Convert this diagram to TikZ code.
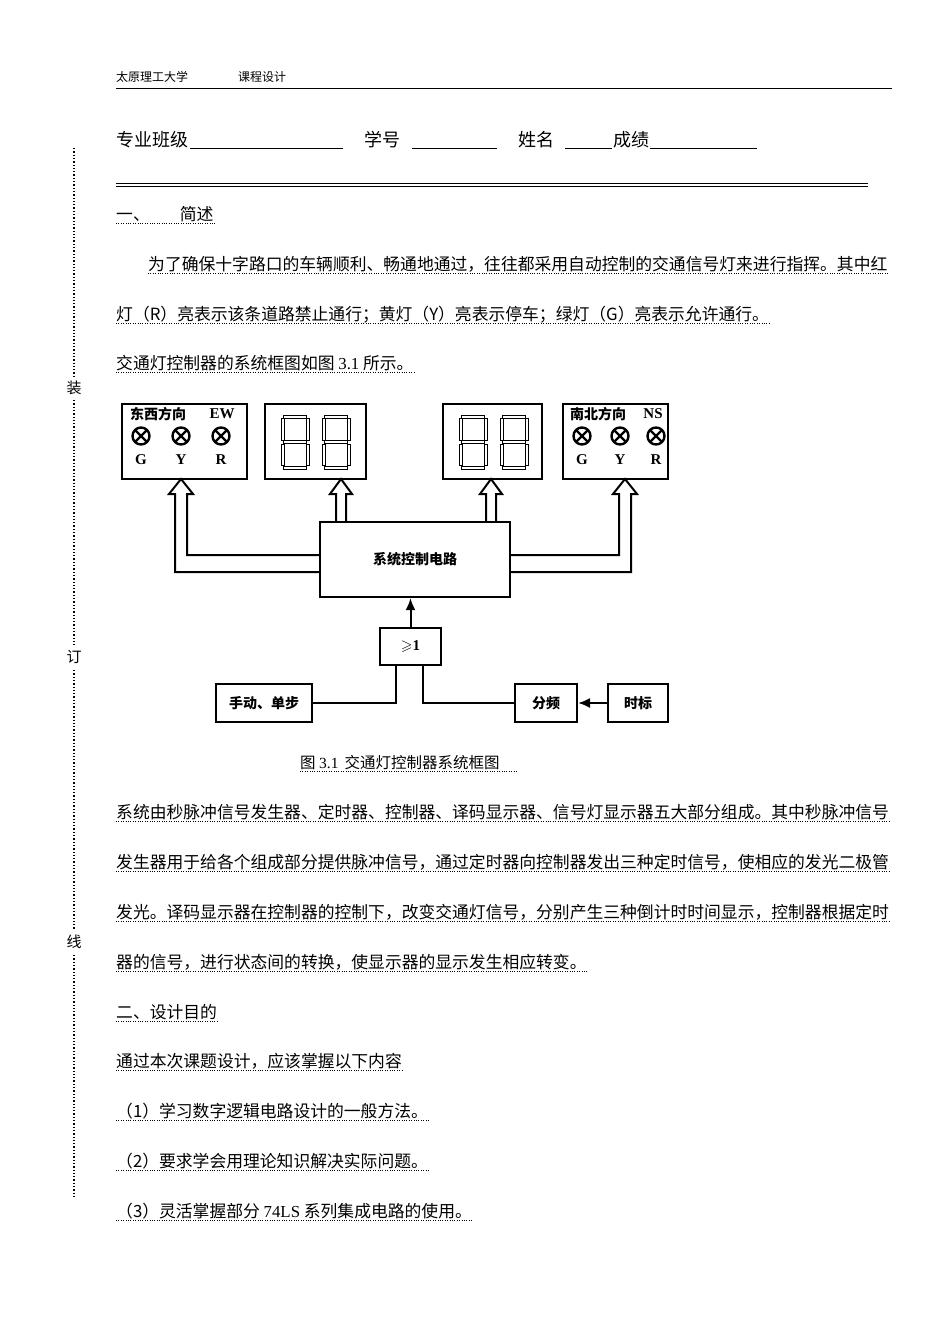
\documentclass[tikz,border=0pt]{standalone}
\usepackage{amssymb}
\usepackage{fontspec}
\setmainfont{Liberation Serif}
\newfontfamily\cjk{Noto Sans CJK SC}
\usetikzlibrary{arrows.meta}
\begin{document}
\begin{tikzpicture}[x=1pt,y=-1pt,
 txt/.style={anchor=base west,inner sep=0pt,font=\fontsize{16.8}{18}\selectfont\cjk},
 blk/.style={draw,line width=2.2pt,inner sep=0pt},
 hol/.style={line width=2pt},
 lamp/.style={circle,draw,line width=2.4pt,minimum size=17pt,inner sep=0pt,path picture={\draw[line width=2.4pt] (path picture bounding box.north west)--(path picture bounding box.south east) (path picture bounding box.north east)--(path picture bounding box.south west);}},
 lab/.style={inner sep=0pt,font=\fontsize{15}{16}\selectfont\bfseries}]
\useasboundingbox[fill=white] (0,0) rectangle (950,1344);
% header
\node[txt,font=\fontsize{12}{14}\selectfont\cjk] (h1) at (116,81) {太原理工大学};
\node[txt,font=\fontsize{12}{14}\selectfont\cjk] (h2) at (238,81) {课程设计};
\draw[line width=0.8pt] (116,88) -- (892,88);
\node[txt,font=\fontsize{18}{20}\selectfont\cjk] (f1) at (116,146) {专业班级};
\draw (190,148) -- (343,148);
\node[txt,font=\fontsize{18}{20}\selectfont\cjk] (f2) at (364,146) {学号};
\draw (412,148) -- (497,148);
\node[txt,font=\fontsize{18}{20}\selectfont\cjk] (f3) at (518,146) {姓名};
\draw (565,148) -- (612,148);
\node[txt,font=\fontsize{18}{20}\selectfont\cjk] (f4) at (613,146) {成绩};
\draw (650,148) -- (757,148);
\draw[line width=0.8pt] (116,183) -- (868,183);
\draw[line width=0.8pt] (116,186) -- (868,186);
% binding line
\draw[dotted,line width=1.3pt] (74,148) -- (74,376) (74,400)--(74,645) (74,670)--(74,930) (74,955)--(74,1198);
\node[inner sep=0pt,font=\fontsize{15}{16}\selectfont\cjk] (z1) at (74,388) {装};
\node[inner sep=0pt,font=\fontsize{15}{16}\selectfont\cjk] (z2) at (74,657) {订};
\node[inner sep=0pt,font=\fontsize{15}{16}\selectfont\cjk] (z3) at (74,942) {线};
% text lines
\newcommand\dl[4]{\node[txt] (#1) at (#2,#3) {#4}; \draw[dotted] ([yshift=-3pt]#1.base west) -- ([yshift=-3pt]#1.base east);}
\node[txt] (s1) at (116,220) {一、\hspace{30pt}简述};
\draw[dotted] (116,223) -- (215,223);
\dl{p1}{148}{270}{为了确保十字路口的车辆顺利、畅通地通过，往往都采用自动控制的交通信号灯来进行指挥。其中红}
\dl{p2}{116}{320}{灯（R）亮表示该条道路禁止通行；黄灯（Y）亮表示停车；绿灯（G）亮表示允许通行。}
\dl{p3}{116}{369}{交通灯控制器的系统框图如图 {\rmfamily 3.1} 所示。}
% diagram boxes
\draw[line width=2pt] (122,404) rectangle (247,479);
\draw[line width=2pt] (265,404) rectangle (366,479);
\draw[line width=2pt] (443,404) rectangle (542,479);
\draw[line width=2pt] (563,404) rectangle (668,479);
\node[inner sep=0pt,font=\fontsize{14}{15}\selectfont\cjk\bfseries] (ewl) at (158,414) {东西方向};
\node[lab] (ew) at (222,414) {EW};
\node[inner sep=0pt,font=\fontsize{14}{15}\selectfont\cjk\bfseries] (nsl) at (598,414) {南北方向};
\node[lab] (ns) at (653,414) {NS};
\foreach \x/\l in {141/G,181/Y,221/R}{\node[lamp] at (\x,436) {}; \node[lab] at (\x,460) {\l};}
\foreach \x/\l in {582/G,620/Y,656/R}{\node[lamp] at (\x,436) {}; \node[lab] at (\x,460) {\l};}
% seven segment digits
\newcommand\digit[2]{%
 \begin{scope}[shift={(#1,#2)},line width=0.9pt]
 \draw (2.5,0) rectangle (25.5,3);
 \draw (2.5,25.5) rectangle (25.5,28.5);
 \draw (2.5,51) rectangle (25.5,54);
 \draw (0,3.5) rectangle (3,25);
 \draw (25,3.5) rectangle (28,25);
 \draw (0,29) rectangle (3,50.5);
 \draw (25,29) rectangle (28,50.5);
 \end{scope}}
\digit{281}{415}\digit{322}{415}\digit{459}{415}\digit{500}{415}
% control box
\node[blk,minimum width=190pt,minimum height=75pt] (ctl) at (415,559.5) {\fontsize{14}{15}\selectfont\cjk\bfseries 系统控制电路};
% hollow arrows
\newcommand\harrow[3]{% x, ytop, ybottom (shaft)
 \draw[hol,line join=miter] (#1-5,#3) -- (#1-5,#2+15) -- (#1-11,#2+15) -- (#1,#2) -- (#1+11,#2+15) -- (#1+5,#2+15) -- (#1+5,#3);}
\draw[hol,line join=miter] (320,555) -- (187,555) -- (187,494) -- (193,494) -- (181,479) -- (169,494) -- (175,494) -- (175,572) -- (320,572);
\draw[hol,line join=miter] (510,555) -- (619,555) -- (619,494) -- (613,494) -- (625,479) -- (637,494) -- (631,494) -- (631,572) -- (510,572);
\harrow{341}{479}{522}
\harrow{491}{479}{522}
% or gate
\node[blk,line width=2pt,minimum width=61pt,minimum height=37pt] (or) at (410.5,646.5) {\fontsize{15}{16}\selectfont\bfseries $\geqslant$1};
\draw[line width=2pt,-{Latex[length=12pt,width=10pt]}] (or.north) -- (or.north |- ctl.south);
\node[blk,line width=2pt,minimum width=96pt,minimum height=38pt] (man) at (264,703) {\fontsize{14}{15}\selectfont\cjk\bfseries 手动、单步};
\node[blk,line width=2pt,minimum width=62pt,minimum height=38pt] (div) at (546,703) {\fontsize{14}{15}\selectfont\cjk\bfseries 分频};
\node[blk,line width=2pt,minimum width=60pt,minimum height=38pt] (clk) at (638,703) {\fontsize{14}{15}\selectfont\cjk\bfseries 时标};
\draw[line width=2pt] (man.east) -- (396,703) -- (396,665);
\draw[line width=2pt] (div.west) -- (423,703) -- (423,665);
\draw[line width=2pt,-{Latex[length=12pt,width=10pt]}] (clk.west) -- (div.east);
\node[txt,font=\fontsize{15.5}{16}\selectfont\cjk] (cap) at (300,768) {图 {\rmfamily 3.1}\hspace{6pt}交通灯控制器系统框图};
\draw[dotted] (300,771) -- (517,771);
% body
\dl{q1}{116}{818}{系统由秒脉冲信号发生器、定时器、控制器、译码显示器、信号灯显示器五大部分组成。其中秒脉冲信号}
\dl{q2}{116}{868}{发生器用于给各个组成部分提供脉冲信号，通过定时器向控制器发出三种定时信号，使相应的发光二极管}
\dl{q3}{116}{918}{发光。译码显示器在控制器的控制下，改变交通灯信号，分别产生三种倒计时时间显示，控制器根据定时}
\dl{q4}{116}{968}{器的信号，进行状态间的转换，使显示器的显示发生相应转变。}
\dl{q5}{116}{1018}{二、设计目的}
\dl{q6}{116}{1067}{通过本次课题设计，应该掌握以下内容}
\dl{q7}{116}{1117}{（1）学习数字逻辑电路设计的一般方法。}
\dl{q8}{116}{1167}{（2）要求学会用理论知识解决实际问题。}
\dl{q9}{116}{1217}{（3）灵活掌握部分 {\rmfamily 74LS} 系列集成电路的使用。}
\end{tikzpicture}
\end{document}
